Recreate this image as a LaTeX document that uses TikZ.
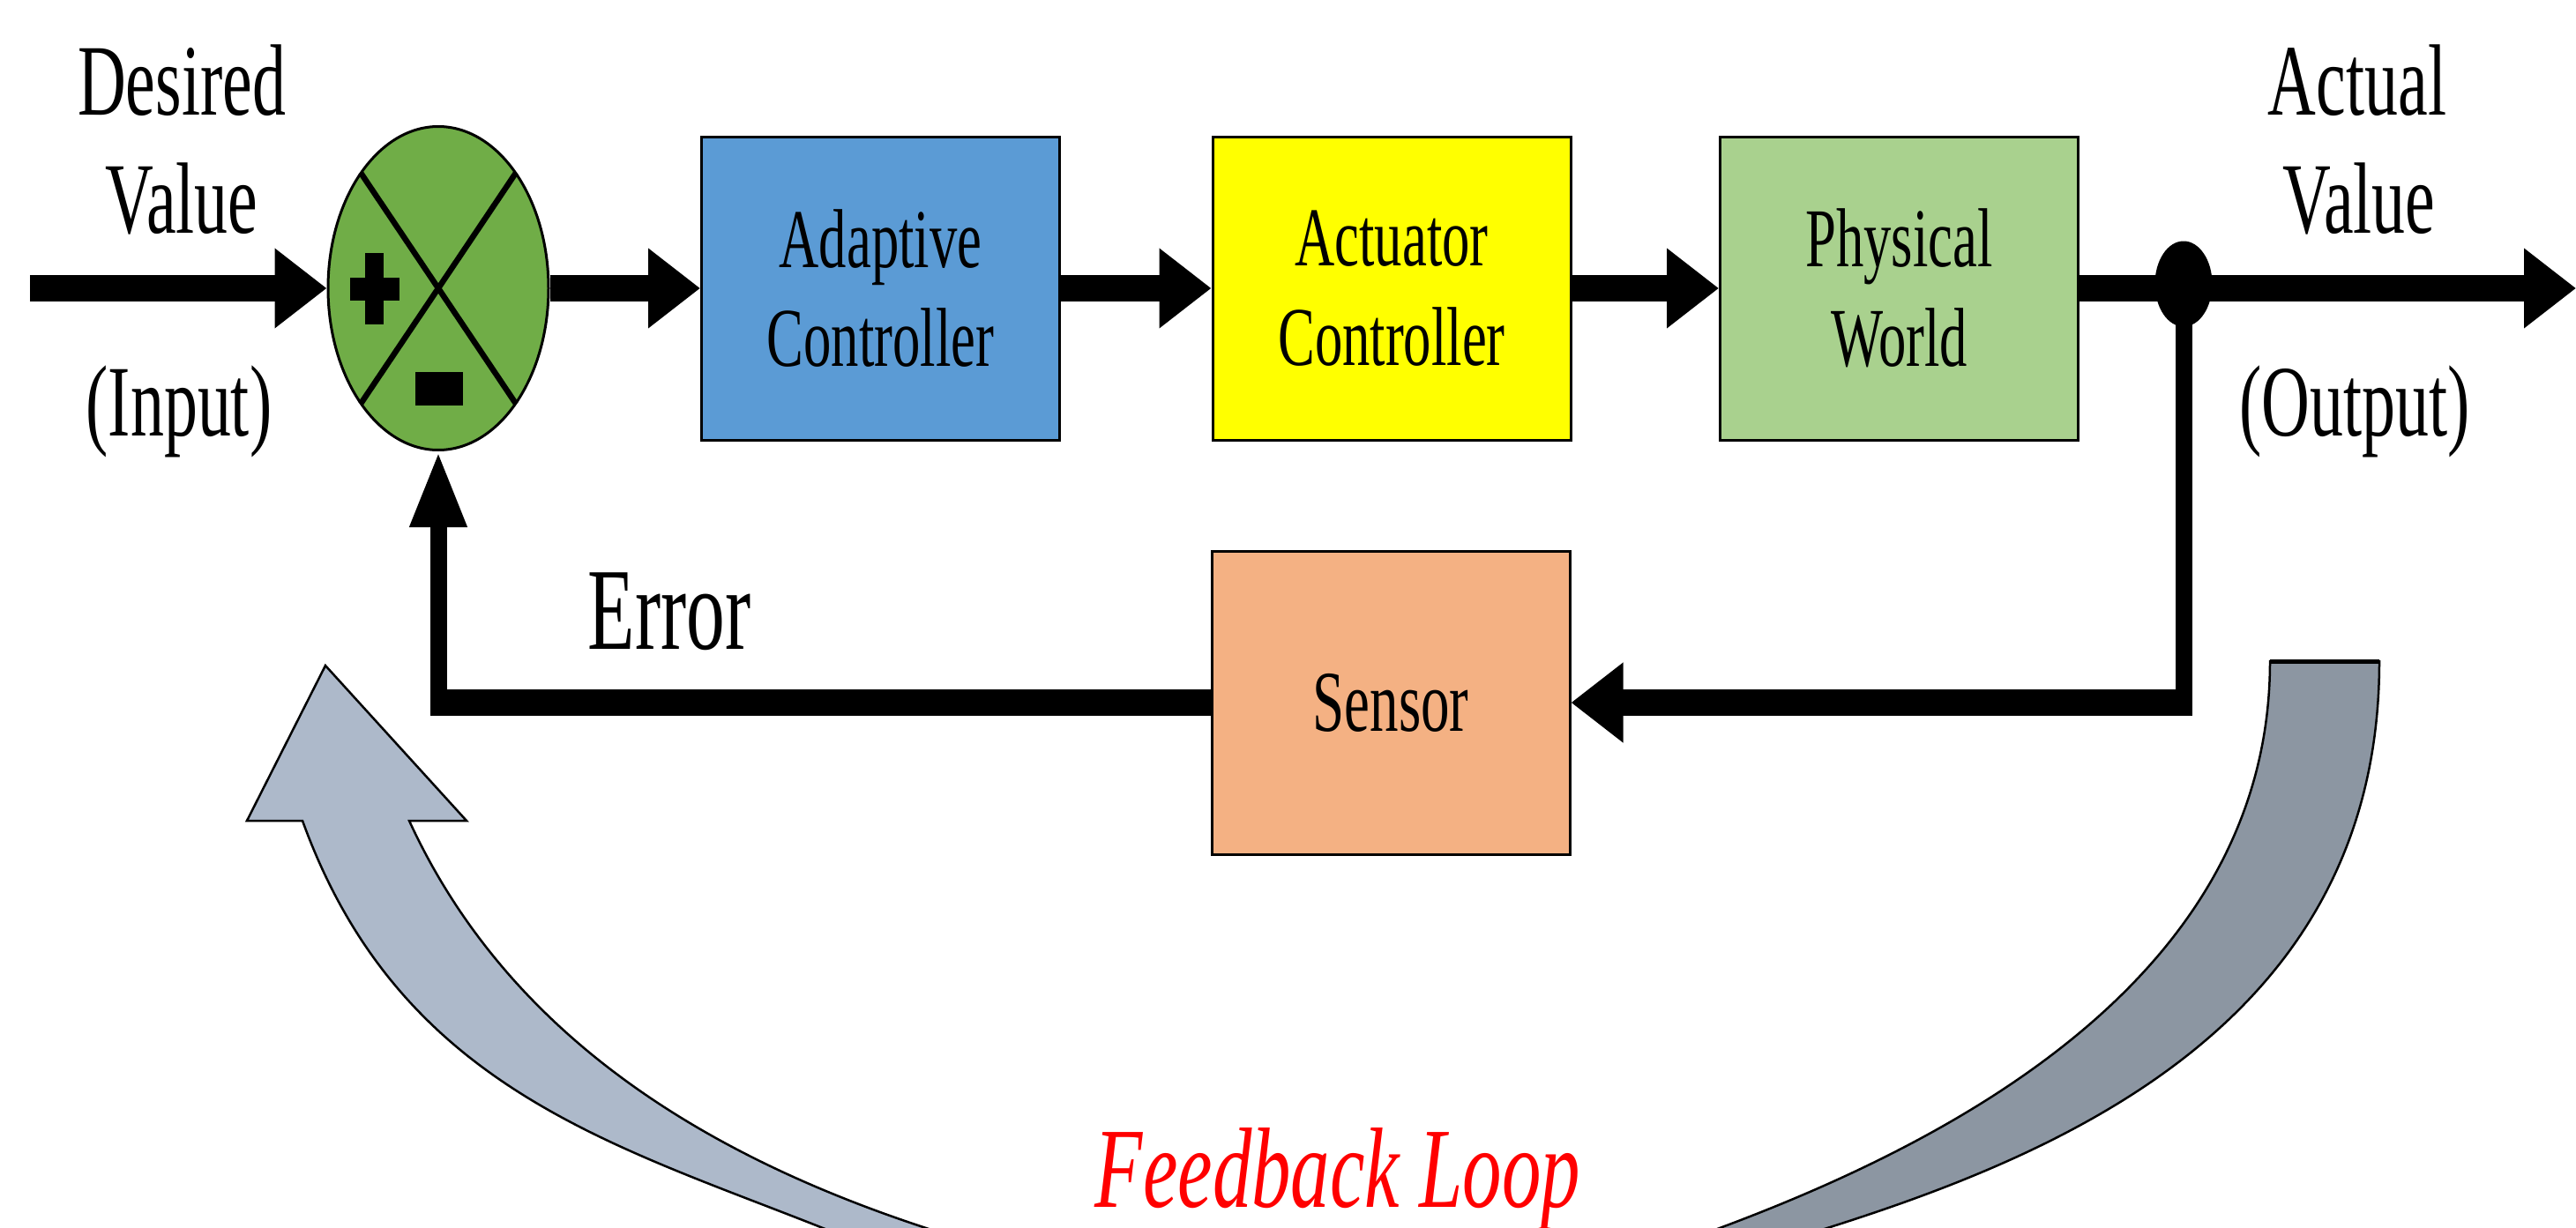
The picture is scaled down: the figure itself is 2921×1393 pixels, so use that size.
\documentclass[tikz,border=0pt]{standalone}
\usepackage{fontspec}
\setmainfont{Liberation Serif}
\usetikzlibrary{arrows.meta,shapes.geometric,calc}
\definecolor{sumgreen}{HTML}{70AD47}
\definecolor{adblue}{HTML}{5B9BD5}
\definecolor{actyellow}{HTML}{FFFF00}
\definecolor{pwgreen}{HTML}{A9D18E}
\definecolor{senorange}{HTML}{F4B183}
\definecolor{bandlight}{HTML}{ADB9CA}
\definecolor{banddark}{HTML}{8C96A2}
\newcommand{\sq}[1]{\scalebox{0.66}[1]{#1}}
\begin{document}
\begin{tikzpicture}[x=0.1mm, y=-0.1mm,
  blk/.style={draw=black, line width=0.3mm, minimum width=40.6mm, minimum height=34.4mm,
    inner sep=0pt, align=center, font=\fontsize{27}{32}\selectfont},
  hflow/.style={line width=2.95mm, -{Triangle[length=5.9mm,width=8.7mm]}},
  hline/.style={line width=2.95mm},
  vflow/.style={line width=1.9mm, -{Triangle[length=8.6mm,width=6mm]}},
  vline/.style={line width=1.9mm},
  lbl/.style={anchor=base, inner sep=0pt, font=\fontsize{32.7}{38}\selectfont},
  band/.style={draw=black, line width=0.25mm, line join=miter}]
\useasboundingbox (0,0) rectangle (2921,1393);

% feedback loop bands
\begin{scope}
\clip (0,0) rectangle (2921,1393);
\filldraw[band, fill=bandlight]
  (343,931) -- (280,931) -- (369,755) -- (529,931) -- (464,931)
  .. controls (577,1177) and (803,1312) .. (1050,1393) -- (1107,1412) -- (989,1415) -- (933,1393)
  .. controls (691,1297) and (452,1232) .. (343,931) -- cycle;
\filldraw[band, fill=banddark]
  (2574,750) -- (2698,750)
  .. controls (2698,1150) and (2357,1303) .. (2072,1393) -- (2015,1411) -- (1894,1414) -- (1950,1393)
  .. controls (2232,1288) and (2574,1100) .. (2574,750) -- cycle;
\draw[line width=0.5mm] (2574,750) -- (2698,750);
\end{scope}

% nodes
\node[ellipse, draw=black, line width=0.3mm, fill=sumgreen, minimum width=25mm,
  minimum height=36.7mm, inner sep=0pt] (sum) at (497,327) {};
\draw[line width=0.65mm] ($(sum.center)+(-88,-131)$) -- ($(sum.center)+(88,131)$);
\draw[line width=0.65mm] ($(sum.center)+(88,-131)$) -- ($(sum.center)+(-88,131)$);
\fill (397,315) rectangle (453,341);
\fill (414,287) rectangle (435,368);
\fill (471,422) rectangle (525,460);

\node[blk, fill=adblue] (ac) at (998.5,327) {\sq{Adaptive}\\\sq{Controller}};
\node[blk, fill=actyellow] (act) at (1578,327) {\sq{Actuator}\\\sq{Controller}};
\node[blk, fill=pwgreen] (pw) at (2153.5,327) {\sq{Physical}\\\sq{World}};
\node[blk, fill=senorange, font=\fontsize{28}{33}\selectfont] (sen) at (1577,797) {\sq{Sensor}};
\node[ellipse, fill=black, minimum width=6.5mm, minimum height=9.7mm, inner sep=0pt] (dot) at (2476,322) {};

\coordinate (in) at (34,327);
\coordinate (out) at (2921,327);
\coordinate (rv) at (2476,812);
\coordinate (rh) at (2485.5,797);
\coordinate (lh) at (487.5,797);
\coordinate (lv) at (497,812);

% connectors
\draw[hflow] (in) -- (sum.west);
\draw[hflow] (sum.east) -- (ac.west);
\draw[hflow] (ac.east) -- (act.west);
\draw[hflow] (act.east) -- (pw.west);
\draw[hflow] (pw.east) -- (out);
\draw[vline] (dot.center) -- (rv);
\draw[hflow] (rh) -- (sen.east);
\draw[hline] (sen.west) -- (lh);
\draw[vflow] (lv) -- (sum.south);

% labels
\node[lbl] (tDes) at (206,130) {\sq{Desired}};
\node[lbl] (tVal1) at (206,264) {\sq{Value}};
\node[lbl] (tIn) at (203,494) {\sq{(Input)}};
\node[lbl] (tAct) at (2673,130) {\sq{Actual}};
\node[lbl] (tVal2) at (2675,264) {\sq{Value}};
\node[lbl] (tOut) at (2670,494) {\sq{(Output)}};
\node[lbl, font=\fontsize{37.7}{44}\selectfont] (tErr) at (759,736) {\sq{Error}};
\node[lbl, font=\fontsize{36.9}{44}\selectfont\itshape, text=red] (tFb) at (1517,1369) {\scalebox{0.685}[1]{Feedback Loop}};
\end{tikzpicture}
\end{document}
